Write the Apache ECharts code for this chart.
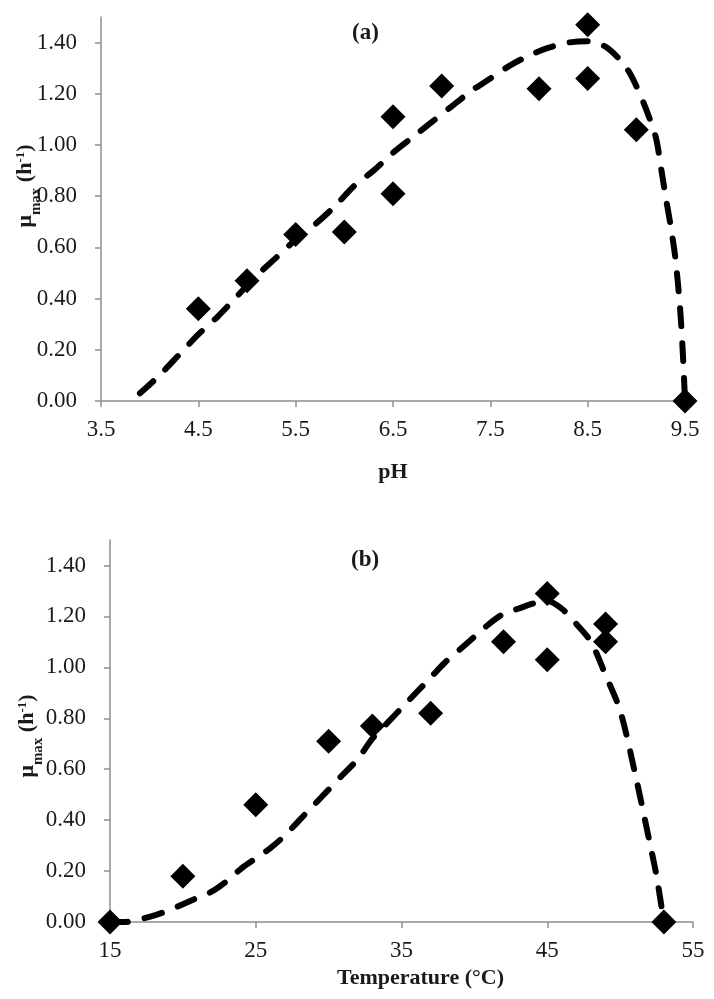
<!DOCTYPE html>
<html>
<head>
<meta charset="utf-8">
<script src="https://cdn.jsdelivr.net/npm/echarts@6/dist/echarts.min.js"></script>
<style>
html,body{margin:0;padding:0;background:#fff;}
#chart{width:714px;height:999px;}
</style>
</head>
<body>
<div id="chart"></div>
<script>
// ---- Data (a): pH ----
var phObsX = [4.5, 5.0, 5.5, 6.0, 6.5, 6.5, 7.0, 8.0, 8.5, 8.5, 9.0, 9.5];
var phObsY = [0.36, 0.47, 0.65, 0.66, 1.11, 0.81, 1.23, 1.22, 1.47, 1.26, 1.06, 0.00];
var phFitX = [3.9, 4.1, 4.3, 4.5, 4.7, 4.9, 5.1, 5.3, 5.5, 5.7, 5.9, 6.1, 6.3, 6.5, 6.7, 6.9, 7.1, 7.3, 7.5, 7.7, 7.9, 8.1, 8.3, 8.5, 8.7, 8.9, 9.0, 9.1, 9.2, 9.25, 9.3, 9.35, 9.4, 9.45, 9.48, 9.5];
var phFitY = [0.03, 0.10, 0.18, 0.26, 0.33, 0.41, 0.49, 0.56, 0.63, 0.69, 0.76, 0.84, 0.90, 0.97, 1.03, 1.09, 1.15, 1.21, 1.26, 1.31, 1.35, 1.38, 1.40, 1.405, 1.38, 1.30, 1.23, 1.14, 1.03, 0.92, 0.80, 0.69, 0.56, 0.36, 0.17, 0.00];
var phTicks = [3.5, 4.5, 5.5, 6.5, 7.5, 8.5, 9.5];

// ---- Data (b): Temperature ----
var tObsX = [15, 20, 25, 30, 33, 37, 42, 45, 45, 49, 49, 53];
var tObsY = [0.00, 0.18, 0.46, 0.71, 0.77, 0.82, 1.10, 1.29, 1.03, 1.17, 1.10, 0.00];
var tFitX = [15, 16, 17, 18, 19, 20, 21, 22, 23, 24, 25, 26, 27, 28, 29, 30, 31, 32, 33, 34, 35, 36, 37, 38, 39, 40, 41, 42, 43, 44, 45, 46, 47, 48, 49, 50, 51, 52, 52.5, 53];
var tFitY = [0.00, 0.00, 0.01, 0.025, 0.045, 0.07, 0.095, 0.12, 0.16, 0.21, 0.25, 0.29, 0.34, 0.40, 0.46, 0.52, 0.58, 0.64, 0.72, 0.78, 0.84, 0.90, 0.96, 1.02, 1.07, 1.12, 1.17, 1.21, 1.23, 1.25, 1.26, 1.23, 1.17, 1.10, 0.97, 0.83, 0.59, 0.32, 0.18, 0.00];
var tTicks = [15, 25, 35, 45, 55];

var muTicks = [0, 0.2, 0.4, 0.6, 0.8, 1.0, 1.2, 1.4];

function zip(xs, ys) { return xs.map(function (x, i) { return [x, ys[i]]; }); }

var FONT = '"Liberation Serif", "Times New Roman", serif';
var AXIS_COLOR = '#8f8f8f';
var TEXT_COLOR = '#1a1a1a';

function yAxisCfg(gridIndex, nameGap, pad) {
  return {
    type: 'value', gridIndex: gridIndex, min: 0, max: 1.5, interval: 0.1,
    name: '{b|μ}{sub|max}{b| (h}{sup|-1}{b|)}',
    nameLocation: 'middle', nameGap: nameGap, nameMoveOverlap: false,
    nameTextStyle: {
      padding: pad,
      rich: {
        b: { fontFamily: FONT, fontWeight: 'bold', fontSize: 22, color: TEXT_COLOR, lineHeight: 26 },
        sub: { fontFamily: FONT, fontWeight: 'bold', fontSize: 15, color: TEXT_COLOR, lineHeight: 26, verticalAlign: 'bottom', padding: [0, 0, -6, 0] },
        sup: { fontFamily: FONT, fontWeight: 'bold', fontSize: 13, color: TEXT_COLOR, lineHeight: 26, verticalAlign: 'top', padding: [2, 0, 0, 0] }
      }
    },
    axisLine: { show: true, lineStyle: { color: AXIS_COLOR, width: 1.5 } },
    axisTick: { show: true, length: 6, lineStyle: { color: AXIS_COLOR, width: 1.5 }, customValues: muTicks },
    axisLabel: {
      customValues: muTicks, margin: 24,
      fontFamily: FONT, fontSize: 23, color: TEXT_COLOR,
      formatter: function (v) { return v.toFixed(2); }
    },
    splitLine: { show: false }
  };
}

function xAxisCfg(gridIndex, min, max, ticks, name, nameGap, pad, fmt) {
  return {
    type: 'value', gridIndex: gridIndex, min: min, max: max, interval: 0.5,
    name: name, nameLocation: 'middle', nameGap: nameGap, nameMoveOverlap: false,
    nameTextStyle: { fontFamily: FONT, fontWeight: 'bold', fontSize: 22, color: TEXT_COLOR, padding: pad },
    axisLine: { show: true, onZero: false, lineStyle: { color: AXIS_COLOR, width: 1.5 } },
    axisTick: { show: true, length: 6, lineStyle: { color: AXIS_COLOR, width: 1.5 }, customValues: ticks },
    axisLabel: {
      customValues: ticks, margin: 17,
      fontFamily: FONT, fontSize: 23, color: TEXT_COLOR,
      formatter: fmt
    },
    splitLine: { show: false }
  };
}

var chart = echarts.init(document.getElementById('chart'), null, { renderer: 'canvas' });
chart.setOption({
  backgroundColor: '#ffffff',
  animation: false,
  title: [
    { text: '(a)', left: 352, top: 22, padding: 0, textStyle: { fontFamily: FONT, fontWeight: 'bold', fontSize: 23, color: TEXT_COLOR } },
    { text: '(b)', left: 351, top: 549, padding: 0, textStyle: { fontFamily: FONT, fontWeight: 'bold', fontSize: 23, color: TEXT_COLOR } }
  ],
  grid: [
    { left: 101, top: 17, width: 584, height: 384, containLabel: false, outerBoundsMode: 'none' },
    { left: 110, top: 540, width: 583, height: 382, containLabel: false, outerBoundsMode: 'none' }
  ],
  xAxis: [
    xAxisCfg(0, 3.5, 9.5, phTicks, 'pH', 60, 0, function (v) { return v.toFixed(1); }),
    xAxisCfg(1, 15, 55, tTicks, 'Temperature (°C)', 45, [0, 0, 0, 38], function (v) { return String(v); })
  ],
  yAxis: [
    yAxisCfg(0, 63, [0, 0, 0, 46]),
    yAxisCfg(1, 70, [0, 10, 0, 0])
  ],
  series: [
    {
      type: 'line', xAxisIndex: 0, yAxisIndex: 0, data: zip(phFitX, phFitY),
      showSymbol: false, smooth: 0.3, z: 2,
      lineStyle: { color: '#000', width: 6, type: [18, 17], cap: 'round', opacity: 1 }
    },
    {
      type: 'scatter', xAxisIndex: 0, yAxisIndex: 0, data: zip(phObsX, phObsY),
      symbol: 'diamond', symbolSize: 25, itemStyle: { color: '#000', opacity: 1 }, z: 3
    },
    {
      type: 'line', xAxisIndex: 1, yAxisIndex: 1, data: zip(tFitX, tFitY),
      showSymbol: false, smooth: 0.3, z: 2,
      lineStyle: { color: '#000', width: 6, type: [18, 17], cap: 'round', opacity: 1 }
    },
    {
      type: 'scatter', xAxisIndex: 1, yAxisIndex: 1, data: zip(tObsX, tObsY),
      symbol: 'diamond', symbolSize: 25, itemStyle: { color: '#000', opacity: 1 }, z: 3
    }
  ]
});
</script>
</body>
</html>
